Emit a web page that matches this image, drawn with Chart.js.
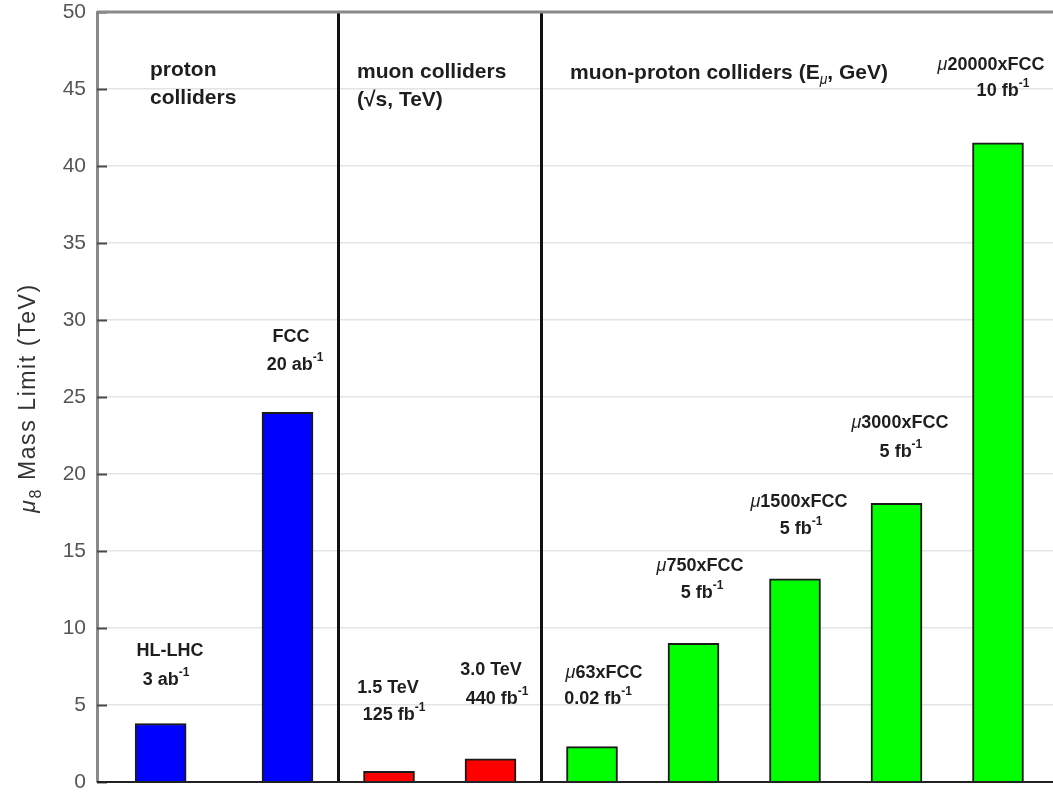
<!DOCTYPE html>
<html>
<head>
<meta charset="utf-8">
<script src="https://cdn.jsdelivr.net/npm/chart.js@4/dist/chart.umd.min.js"></script>
<style>
  html, body { margin: 0; padding: 0; background: #fff; overflow: hidden; }
  #wrap { width: 1053px; height: 792px; position: relative; }
</style>
</head>
<body>
<div id="wrap"><canvas id="c" width="1053" height="792"></canvas></div>
<script>
// Collider scenarios, their x positions along the axis, and the reach of each one
const colliders = ['HL-LHC', 'FCC', '1.5 TeV', '3.0 TeV', 'μ63xFCC', 'μ750xFCC', 'μ1500xFCC', 'μ3000xFCC', 'μ20000xFCC'];
const positions = [0.75, 2, 3, 4, 5, 6, 7, 8, 9];
const massLimits = [3.8, 24.0, 0.7, 1.5, 2.3, 9.0, 13.2, 18.1, 41.5];
const colliderType = ['proton', 'proton', 'muon', 'muon', 'muon-proton', 'muon-proton', 'muon-proton', 'muon-proton', 'muon-proton'];
const yTicks = [0, 5, 10, 15, 20, 25, 30, 35, 40, 45, 50];
const groupDividers = [2.5, 4.5];

const typeColors = { 'proton': '#0000ff', 'muon': '#ff0000', 'muon-proton': '#00ff00' };

// Family headings (larger type), placed in axis units
const headings = [
  { text: 'proton', x: 0.645, y: 46.23 },
  { text: 'colliders', x: 0.645, y: 44.42 },
  { text: 'muon colliders', x: 2.685, y: 46.1 },
  { text: '(√s, TeV)', x: 2.685, y: 44.29 },
  { text: 'muon-proton colliders (E_{μ}, GeV)', x: 4.783, y: 46.04 }
];

// Per-bar captions, centred on x (axis units); ^{..} superscript, _{..} subscript
const captions = [
  { text: 'μ20000xFCC', x: 8.931, y: 46.56 },
  { text: '10 fb^{-1}', x: 9.049, y: 44.85 },
  { text: 'FCC', x: 2.034, y: 28.9 },
  { text: '20 ab^{-1}', x: 2.074, y: 27.08 },
  { text: 'HL-LHC', x: 0.842, y: 8.51 },
  { text: '3 ab^{-1}', x: 0.803, y: 6.62 },
  { text: '1.5 TeV', x: 2.99, y: 6.10 },
  { text: '125 fb^{-1}', x: 3.049, y: 4.35 },
  { text: '3.0 TeV', x: 4.005, y: 7.27 },
  { text: '440 fb^{-1}', x: 4.064, y: 5.39 },
  { text: 'μ63xFCC', x: 5.118, y: 7.08 },
  { text: '0.02 fb^{-1}', x: 5.059, y: 5.39 },
  { text: 'μ750xFCC', x: 6.064, y: 14.03 },
  { text: '5 fb^{-1}', x: 6.084, y: 12.27 },
  { text: 'μ1500xFCC', x: 7.039, y: 18.18 },
  { text: '5 fb^{-1}', x: 7.059, y: 16.43 },
  { text: 'μ3000xFCC', x: 8.034, y: 23.31 },
  { text: '5 fb^{-1}', x: 8.044, y: 21.43 }
];

const SANS = '"Liberation Sans", Arial, Helvetica, sans-serif';

// Split a label into runs of plain text, super/subscripts and greek letters
function parseRich(str) {
  const out = [];
  let buf = '';
  const flush = () => { if (buf) { out.push({ t: buf, kind: 'text' }); buf = ''; } };
  let i = 0;
  while (i < str.length) {
    const ch = str[i];
    if ((ch === '^' || ch === '_') && str[i + 1] === '{') {
      flush();
      const end = str.indexOf('}', i);
      out.push({ t: str.slice(i + 2, end), kind: ch === '^' ? 'sup' : 'sub' });
      i = end + 1;
    } else if (ch === 'μ') {
      flush();
      out.push({ t: 'μ', kind: 'greek' });
      i++;
    } else {
      buf += ch;
      i++;
    }
  }
  flush();
  return out;
}

function runFont(run, size, weight) {
  const small = Math.round(size * 0.68);
  if (run.kind === 'greek') return `italic 400 ${size}px ${SANS}`;
  if (run.kind === 'sup' || run.kind === 'sub') {
    return run.t === 'μ' ? `italic 400 ${small}px ${SANS}` : `${weight} ${small}px ${SANS}`;
  }
  return `${weight} ${size}px ${SANS}`;
}

function runShift(run, size) {
  if (run.kind === 'sup') return -size * 0.42;
  if (run.kind === 'sub') return size * 0.32;
  return 0;
}

function drawRich(ctx, str, x, y, opts) {
  const size = opts.size, weight = opts.weight || 'bold';
  const runs = parseRich(str);
  ctx.letterSpacing = (opts.spacing || 0) + 'px';
  let total = 0;
  runs.forEach(r => { ctx.font = runFont(r, size, weight); r.w = ctx.measureText(r.t).width; total += r.w; });
  let cx = opts.align === 'left' ? x : x - total / 2;
  ctx.textAlign = 'left';
  ctx.textBaseline = 'middle';
  runs.forEach(r => {
    ctx.font = runFont(r, size, weight);
    ctx.fillText(r.t, cx, y + runShift(r, size));
    cx += r.w;
  });
  ctx.letterSpacing = '0px';
}

const decorations = {
  id: 'decorations',
  afterDatasetsDraw(chart) {
    const { ctx, chartArea: a, scales: { x, y } } = chart;
    ctx.save();

    // inward tick marks on the value axis
    ctx.strokeStyle = '#4a4a4a';
    ctx.lineWidth = 2;
    yTicks.forEach(v => {
      const py = Math.round(y.getPixelForValue(v)) + 0.5;
      ctx.beginPath();
      ctx.moveTo(a.left, py);
      ctx.lineTo(a.left + 10, py);
      ctx.stroke();
    });

    // vertical dividers between collider families
    ctx.strokeStyle = '#111';
    ctx.lineWidth = 3;
    groupDividers.forEach(v => {
      const px = Math.round(x.getPixelForValue(v)) + 0.5;
      ctx.beginPath();
      ctx.moveTo(px, a.top);
      ctx.lineTo(px, a.bottom);
      ctx.stroke();
    });

    // top frame line
    ctx.strokeStyle = '#8a8a8a';
    ctx.lineWidth = 3;
    ctx.beginPath();
    ctx.moveTo(a.left, a.top);
    ctx.lineTo(a.right, a.top);
    ctx.stroke();

    // baseline
    ctx.strokeStyle = '#222';
    ctx.lineWidth = 2;
    const y0 = Math.round(y.getPixelForValue(0));
    ctx.beginPath();
    ctx.moveTo(a.left, y0);
    ctx.lineTo(a.right, y0);
    ctx.stroke();

    // headings and captions
    ctx.fillStyle = '#1e1e1e';
    headings.forEach(n => {
      drawRich(ctx, n.text, x.getPixelForValue(n.x), y.getPixelForValue(n.y),
        { size: 21, weight: 'bold', align: 'left' });
    });
    captions.forEach(n => {
      drawRich(ctx, n.text, x.getPixelForValue(n.x), y.getPixelForValue(n.y),
        { size: 18, weight: 'bold', align: 'center' });
    });

    // value-axis title with subscript
    ctx.translate(29, (a.top + a.bottom) / 2 + 1);
    ctx.rotate(-Math.PI / 2);
    ctx.fillStyle = '#333';
    drawRich(ctx, 'μ_{8} Mass Limit (TeV)', 0, 0, { size: 23, weight: '400', align: 'center', spacing: 1.6 });
    ctx.restore();
  }
};

new Chart(document.getElementById('c'), {
  type: 'bar',
  data: {
    labels: colliders,
    datasets: [{
      data: positions.map((p, i) => ({ x: p, y: massLimits[i] })),
      backgroundColor: colliderType.map(t => typeColors[t]),
      borderColor: '#1a1a1a',
      borderWidth: 2,
      barThickness: 51
    }]
  },
  options: {
    responsive: false,
    animation: false,
    devicePixelRatio: 1,
    layout: { padding: { left: 0, right: 0, top: 12, bottom: 10 } },
    plugins: { legend: { display: false }, tooltip: { enabled: false } },
    scales: {
      x: { type: 'linear', min: 0.123, max: 9.542, offset: false, display: false },
      y: {
        min: 0, max: 50,
        afterBuildTicks: s => { s.ticks = yTicks.map(v => ({ value: v })); },
        afterFit: s => { s.width = 97; s.paddingTop = 0; s.paddingBottom = 0; },
        ticks: { color: '#555', padding: 11, font: { size: 21, family: SANS } },
        grid: { color: '#e4e4e4', lineWidth: 1.5, drawTicks: false },
        border: { color: '#8a8a8a', width: 3 }
      }
    }
  },
  plugins: [decorations]
});
</script>
</body>
</html>
